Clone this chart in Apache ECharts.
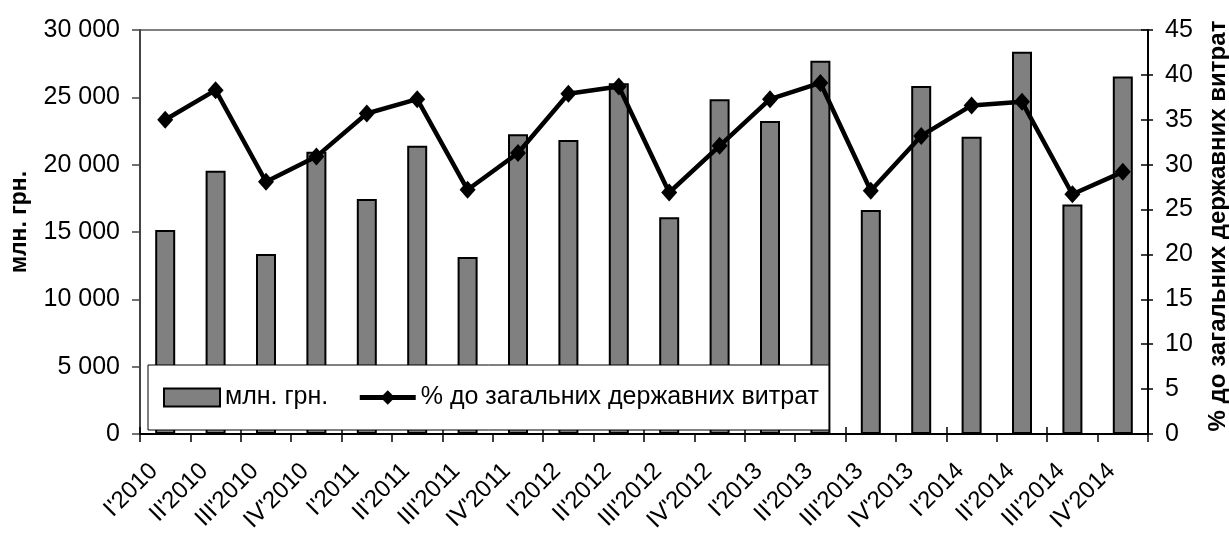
<!DOCTYPE html>
<html lang="uk">
<head>
	<meta charset="UTF-8">
	<title>chart</title>
	<style type="text/css">
	body,html{
		width: 100%;
		height: 100%;
		margin: 0;
		padding: 0;
		background: #fff;
	}
	#chart{
		width: 1229px;
		height: 533px;
	}
	</style>
</head>
<body>
<div id="chart"></div>
<script type="text/javascript" src="https://cdn.jsdelivr.net/npm/echarts@6/dist/echarts.min.js"></script>
<script type="text/javascript">
	var categories = ["I'2010", "II'2010", "III'2010", "IV'2010",
		"I'2011", "II'2011", "III'2011", "IV'2011",
		"I'2012", "II'2012", "III'2012", "IV'2012",
		"I'2013", "II'2013", "III'2013", "IV'2013",
		"I'2014", "II'2014", "III'2014", "IV'2014"];
	// млн. грн.
	var amounts = [15150, 19550, 13370, 20950, 17450, 21400, 13150, 22250,
		21830, 26040, 16090, 24850, 23240, 27720, 16630, 25840,
		22080, 28390, 17050, 26540];
	// % до загальних державних витрат
	var shares = [35.0, 38.3, 28.1, 30.9, 35.7, 37.3, 27.2, 31.3,
		37.9, 38.7, 26.9, 32.1, 37.3, 39.1, 27.1, 33.2,
		36.6, 37.0, 26.7, 29.2];

	var barName = 'млн. грн.';
	var lineName = '% до загальних державних витрат';
	var font = '"Liberation Sans", Arial, sans-serif';

	function spaced(v){
		return String(v).replace(/\B(?=(\d{3})+(?!\d))/g, ' ');
	}

	var chart = echarts.init(document.getElementById('chart'));
	var option = {
		animation: false,
		textStyle: { fontFamily: font, color: '#000' },
		grid: {
			left: 140, right: 81, top: 30, bottom: 99,
			outerBoundsMode: 'none',
			containLabel: false,
			show: true, borderColor: '#808080', borderWidth: 2
		},
		legend: {
			left: 148, top: 365,
			padding: [20, 10, 20, 15],
			itemGap: 29,
			itemWidth: 56, itemHeight: 18,
			backgroundColor: '#fff',
			borderColor: '#000', borderWidth: 1,
			textStyle: { fontFamily: font, fontSize: 25, color: '#000' },
			data: [
				{ name: barName, icon: 'rect' },
				{ name: lineName, lineStyle: { width: 5 } }
			]
		},
		xAxis: [{
			type: 'category',
			data: categories,
			axisLine: { lineStyle: { color: '#000', width: 2 } },
			axisTick: { show: true, length: 8, lineStyle: { color: '#000', width: 1.5 } },
			axisLabel: {
				rotate: 45, fontSize: 24, color: '#000', margin: 22,
				padding: [0, 16, 0, 0], fontFamily: font
			}
		}, {
			// inner half of the crossing ticks
			type: 'category',
			data: categories,
			position: 'bottom',
			axisLine: { show: false },
			axisTick: { show: true, inside: true, length: 7, lineStyle: { color: '#000', width: 1.5 } },
			axisLabel: { show: false }
		}],
		yAxis: [{
			type: 'value',
			min: 0, max: 30000, interval: 5000,
			name: barName,
			nameLocation: 'middle',
			nameRotate: 90,
			nameGap: 109,
			nameTextStyle: {
				fontSize: 23, fontWeight: 'bold', fontFamily: font, color: '#000',
				padding: [0, 0, 0, 20]
			},
			axisLine: { show: true, lineStyle: { color: '#444', width: 2 } },
			axisTick: { show: true, length: 8, lineStyle: { color: '#444', width: 1.5 } },
			splitLine: { show: false },
			axisLabel: {
				fontSize: 25, color: '#000', margin: 20, fontFamily: font,
				formatter: function(v){ return spaced(v); }
			}
		}, {
			type: 'value',
			min: 0, max: 45, interval: 5,
			position: 'right',
			name: lineName,
			nameLocation: 'middle',
			nameRotate: 90,
			nameGap: 58,
			nameTextStyle: {
				fontSize: 24, fontWeight: 'bold', fontFamily: font, color: '#000',
				padding: [0, 0, 0, 12]
			},
			axisLine: { show: true, lineStyle: { color: '#000', width: 2 } },
			axisTick: { show: true, length: 5, lineStyle: { color: '#000', width: 1.5 } },
			splitLine: { show: false },
			axisLabel: { fontSize: 25, color: '#000', margin: 17, fontFamily: font }
		}, {
			// inner half of the crossing ticks on the right axis
			type: 'value',
			min: 0, max: 45, interval: 5,
			position: 'right',
			axisLine: { show: false },
			axisTick: { show: true, inside: true, length: 7, lineStyle: { color: '#000', width: 1.5 } },
			splitLine: { show: false },
			axisLabel: { show: false }
		}],
		series: [{
			name: barName,
			type: 'bar',
			yAxisIndex: 0,
			barWidth: 20,
			data: amounts,
			itemStyle: { color: '#808080', borderColor: '#000', borderWidth: 2 }
		}, {
			name: lineName,
			type: 'line',
			yAxisIndex: 1,
			data: shares,
			symbol: 'diamond',
			symbolSize: [16, 18],
			lineStyle: { color: '#000', width: 4.5 },
			itemStyle: { color: '#000' }
		}]
	};
	chart.setOption(option, true);
	window.addEventListener("resize", function(){
		chart.resize();
	});
</script>
</body>
</html>
